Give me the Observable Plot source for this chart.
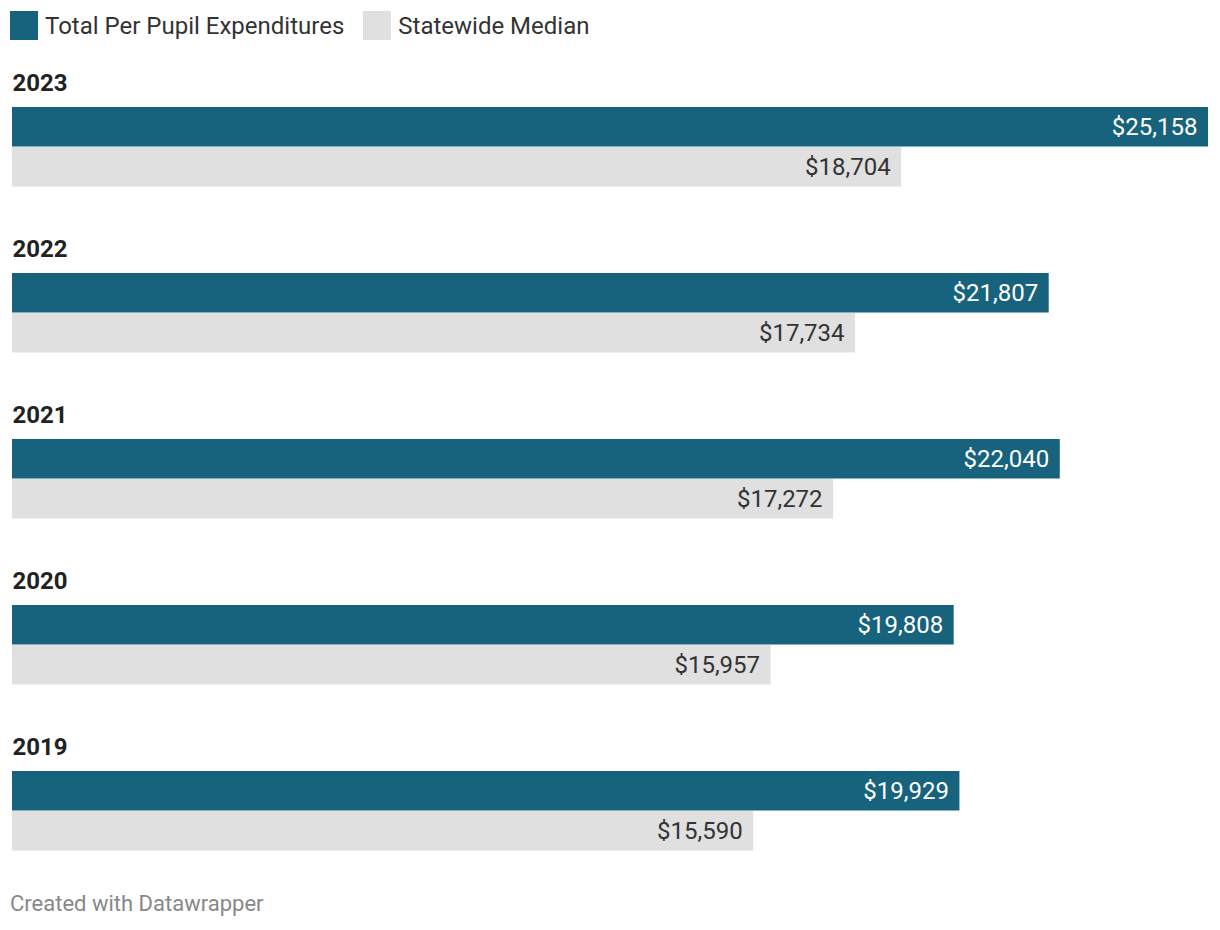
<!DOCTYPE html>
<html>
<head>
<meta charset="utf-8">
<script src="https://cdn.jsdelivr.net/npm/d3@7"></script>
<script src="https://cdn.jsdelivr.net/npm/@observablehq/plot@0.6"></script>
<style>
  html, body { margin: 0; padding: 0; background: #fff; }
  body { width: 1220px; height: 930px; position: relative; font-family: Roboto, "Noto Sans", sans-serif; overflow: hidden; }
  #legend { position: absolute; left: 10px; top: 11px; display: flex; align-items: center; font-size: 24px; color: #333; }
  .item { display: flex; align-items: center; margin-right: 19px; }
  .sw { width: 28px; height: 29px; margin-right: 7px; }
  #chart { position: absolute; left: 0; top: 59px; }
  #footer { position: absolute; left: 10px; top: 891px; font-size: 22px; color: #888; }
</style>
</head>
<body>
<div id="legend"></div>
<div id="chart"></div>
<div id="footer">Created with Datawrapper</div>
<script>
const years = ["2023", "2022", "2021", "2020", "2019"];
const seriesNames = ["Total Per Pupil Expenditures", "Statewide Median"];
const totalValues = [25158, 21807, 22040, 19808, 19929];
const medianValues = [18704, 17734, 17272, 15957, 15590];
const colors = ["#17627c", "#e0e0e0"];
const labelColors = ["#ffffff", "#333333"];

const rows = [];
years.forEach((y, i) => {
  rows.push({year: y, series: seriesNames[0], value: totalValues[i]});
  rows.push({year: y, series: seriesNames[1], value: medianValues[i]});
});
const totals = rows.filter(d => d.series === seriesNames[0]);
const medians = rows.filter(d => d.series === seriesNames[1]);

const legend = document.getElementById("legend");
seriesNames.forEach((s, i) => {
  const it = document.createElement("div");
  it.className = "item";
  const sw = document.createElement("div");
  sw.className = "sw";
  sw.style.background = colors[i];
  const t = document.createElement("span");
  t.textContent = s;
  it.appendChild(sw); it.appendChild(t);
  legend.appendChild(it);
});

const fmt = v => "$" + d3.format(",")(v);
const band = 166.5;

const plot = Plot.plot({
  width: 1220,
  height: 833,
  marginLeft: 12,
  marginRight: 12,
  marginTop: 0,
  marginBottom: 0.5,
  style: {fontFamily: "Roboto, 'Noto Sans', sans-serif", background: "#fff", overflow: "visible"},
  x: {domain: [0, d3.max(totalValues)], axis: null},
  y: {domain: years, padding: 0, axis: null},
  color: {domain: seriesNames, range: colors},
  marks: [
    Plot.barX(totals, {x: "value", y: "year", fill: "series", insetTop: 47, insetBottom: band - 87}),
    Plot.barX(medians, {x: "value", y: "year", fill: "series", insetTop: 87, insetBottom: band - 127}),
    Plot.text(years, {x: 0, y: d => d, text: d => d, textAnchor: "start", dy: 23 - band / 2, fontSize: 24, fontWeight: "bold", fill: "#222"}),
    Plot.text(totals, {x: "value", y: "year", text: d => fmt(d.value), textAnchor: "end", dx: -11, dy: 67 - band / 2, fontSize: 24, fill: labelColors[0]}),
    Plot.text(medians, {x: "value", y: "year", text: d => fmt(d.value), textAnchor: "end", dx: -11, dy: 107 - band / 2, fontSize: 24, fill: labelColors[1]})
  ]
});
document.getElementById("chart").appendChild(plot);
</script>
</body>
</html>
